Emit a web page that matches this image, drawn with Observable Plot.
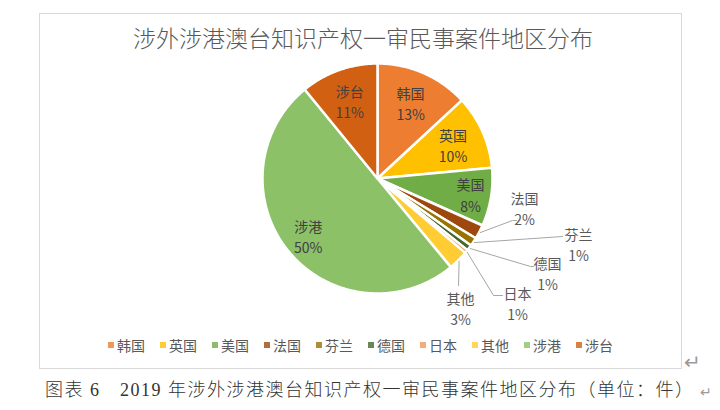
<!DOCTYPE html>
<html><head><meta charset="utf-8">
<script src="https://cdn.jsdelivr.net/npm/d3@7"></script>
<script src="https://cdn.jsdelivr.net/npm/@observablehq/plot@0.6"></script>
<style>
body{margin:0;background:#fff;width:720px;height:410px;position:relative;overflow:hidden;font-family:"Noto Sans CJK SC","Noto Sans",sans-serif;}
#frame{position:absolute;left:39px;top:13px;width:643px;height:356px;border:1px solid #d9d9d9;box-sizing:border-box;}
#title{position:absolute;left:42px;width:642px;top:23px;line-height:28px;font-size:23px;font-weight:300;color:#595959;text-align:center;white-space:nowrap;}
#chart{position:absolute;left:39px;top:50px;}
#legend{position:absolute;left:39px;width:643px;top:336px;height:18px;display:flex;justify-content:center;align-items:center;font-size:14px;color:#595959;}
.item{display:flex;align-items:center;margin:0 7.5px;}
.sw{width:6px;height:6px;margin-right:3px;opacity:.8}
#caption{position:absolute;left:45px;top:379px;font-size:18px;line-height:22px;letter-spacing:1.5px;color:#333;font-weight:300;white-space:nowrap;font-family:"Liberation Serif","Noto Sans CJK SC",serif;}
.pm{color:#9a9a9a;position:absolute;}
</style></head>
<body>
<div id="frame"></div>
<div id="title">涉外涉港澳台知识产权一审民事案件地区分布</div>
<div id="chart"></div>
<div id="legend"></div>
<div id="caption">图表 6　2019 年涉外涉港澳台知识产权一审民事案件地区分布（单位：件）</div>
<div class="pm" style="left:684px;top:346px;font-size:20px;">↵</div>
<div class="pm" style="left:700px;top:381px;font-size:14px;">↵</div>
<script>
// ---- data (share of cases, %) ----
const categories = ["韩国","英国","美国","法国","芬兰","德国","日本","其他","涉港","涉台"];
const shares     = [13.1, 10.4, 8.2, 2.0, 1.2, 0.8, 0.5, 2.8, 50.1, 10.9];
const colors     = ["#ED7D31","#FFC000","#70AD47","#9E480E","#997300","#43682B","#F1975A","#FFCD33","#8CC168","#D26012"];

// ---- label layout (inside: radius factor; outside: px offset from centre, leader end offset) ----
const insideR = {"韩国":0.72,"英国":0.72,"美国":0.82,"涉港":0.78,"涉台":0.72};
const outside = {
  "法国":{dx:147,dy:29, ex:-8, ey:13, el:4},
  "芬兰":{dx:201,dy:65, ex:-16,ey:-7, el:0},
  "德国":{dx:170,dy:94, ex:-14,ey:-6, el:3},
  "日本":{dx:140,dy:124,ex:-15,ey:-7, el:9},
  "其他":{dx:83, dy:129,ex:-2, ey:-22,el:0}
};

const R = 115, W = 643, H = 285, cx = 338, cy = 128;
const total = d3.sum(shares);
let acc = 0;
const slices = categories.map((c, i) => {
  const a0 = acc / total * 2 * Math.PI; acc += shares[i];
  const a1 = acc / total * 2 * Math.PI;
  return {name: c, a0, a1, mid: (a0 + a1) / 2, pct: Math.round(shares[i] / total * 100)};
});
const pts = [];
slices.forEach(s => {
  pts.push({name: s.name, x: 0, y: 0});
  const n = Math.max(2, Math.ceil((s.a1 - s.a0) / (Math.PI / 360)));
  for (let k = 0; k <= n; k++) {
    const a = s.a0 + (s.a1 - s.a0) * k / n;
    pts.push({name: s.name, x: Math.sin(a), y: Math.cos(a)});
  }
  pts.push({name: s.name, x: 0, y: 0});
});
const inLabels = slices.filter(s => insideR[s.name]).map(s => ({
  x: insideR[s.name] * Math.sin(s.mid), y: insideR[s.name] * Math.cos(s.mid), text: s.name + "\n" + s.pct + "%"}));
const outLabels = slices.filter(s => outside[s.name]).map(s => {
  const o = outside[s.name];
  return {x: o.dx / R, y: -o.dy / R, text: s.name + "\n" + s.pct + "%"};
});
const leaders = [];
slices.filter(s => outside[s.name]).forEach(s => {
  const o = outside[s.name];
  leaders.push({name: s.name, x: 1.01 * Math.sin(s.mid), y: 1.01 * Math.cos(s.mid)});
  if (o.el) leaders.push({name: s.name, x: (o.dx + o.ex - o.el) / R, y: -(o.dy + o.ey) / R});
  leaders.push({name: s.name, x: (o.dx + o.ex) / R, y: -(o.dy + o.ey) / R});
});

const font = '"Noto Sans CJK SC","Noto Sans",sans-serif';
const chart = Plot.plot({
  width: W, height: H, margin: 0,
  style: {fontFamily: font, background: "transparent", overflow: "visible"},
  x: {domain: [-cx / R, (W - cx) / R], range: [0, W], axis: null},
  y: {domain: [-(H - cy) / R, cy / R], range: [H, 0], axis: null},
  color: {domain: categories, range: colors},
  marks: [
    Plot.line(pts, {x: "x", y: "y", z: "name", fill: "name", stroke: "white", strokeWidth: 2.5, strokeLinejoin: "round"}),
    Plot.line(leaders, {x: "x", y: "y", z: "name", stroke: "#a6a6a6", strokeWidth: 1}),
    Plot.text(inLabels, {x: "x", y: "y", text: "text", fontSize: 14, lineHeight: 1.55, fill: "#404040", fontFamily: font}),
    Plot.text(outLabels, {x: "x", y: "y", text: "text", fontSize: 14, lineHeight: 1.5, fill: "#595959", fontFamily: font})
  ]
});
document.getElementById("chart").appendChild(chart);

const legend = document.getElementById("legend");
categories.forEach((c, i) => {
  const it = document.createElement("div"); it.className = "item";
  const sw = document.createElement("span"); sw.className = "sw"; sw.style.background = colors[i];
  const tx = document.createElement("span"); tx.textContent = c;
  it.appendChild(sw); it.appendChild(tx); legend.appendChild(it);
});
</script>
</body></html>
